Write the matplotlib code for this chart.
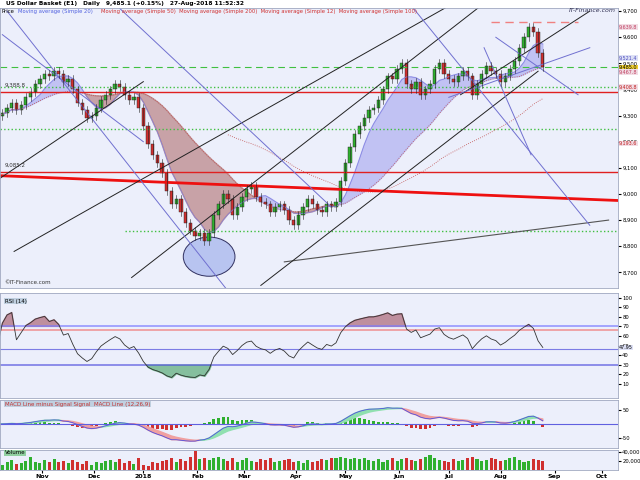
import numpy as np
import pandas as pd
import matplotlib
matplotlib.use("Agg")
import matplotlib.pyplot as plt
from matplotlib.patches import Ellipse, Rectangle

closes = [9300, 9310, 9330, 9350, 9320, 9340, 9370, 9390, 9420, 9440, 9460, 9450,
          9470, 9460, 9430, 9440, 9400, 9350, 9320, 9290, 9300, 9330, 9360,
          9380, 9400, 9420, 9410, 9380, 9360, 9370, 9330, 9260, 9190,
          9150, 9120, 9080, 9010, 8960, 8980, 8930, 8890, 8860, 8840, 8850,
          8820, 8850, 8920, 8960, 9000, 8980, 8920, 8950, 8990, 9020,
          9030, 8990, 8970, 8960, 8930, 8950, 8960, 8940, 8900, 8880, 8920,
          8950, 8980, 8960, 8940, 8930, 8960, 8950, 8970, 9050, 9120, 9180,
          9230, 9260, 9290, 9320, 9330, 9360, 9400, 9450, 9440, 9480, 9500,
          9420, 9400, 9430, 9380, 9400, 9420, 9480, 9500, 9460, 9440,
          9430, 9450, 9470, 9450, 9380, 9420, 9460, 9490, 9470, 9460, 9430,
          9450, 9480, 9510, 9560, 9600, 9640, 9620, 9540, 9485]
volumes = [15, 12, 18, 22, 14, 16, 20, 30, 18, 15, 22, 17,
           24, 18, 20, 16, 22, 19, 14, 20, 12, 18, 16,
           20, 22, 18, 24, 16, 20, 14, 26, 12, 10,
           18, 16, 20, 22, 28, 18, 25, 20, 30, 42, 24,
           26, 22, 28, 30, 24, 20, 26, 18, 22, 28,
           20, 18, 24, 22, 26, 18, 20, 22, 24, 18, 20,
           16, 22, 18, 20, 24, 22, 26, 28, 30, 26, 24,
           28, 24, 26, 22, 20, 24, 18, 22, 26, 20, 24,
           28, 22, 20, 24, 30, 34, 26, 22, 20, 18,
           24, 20, 22, 26, 30, 24, 20, 22, 26, 24, 20,
           22, 26, 30, 22, 18, 20, 24, 22, 20]
hlines = [(9388.8, "#e02020", "-", 1.0), (9485.0, "#40c040", (0, (6, 4)), 0.8),
          (9408.8, "#40c040", ":", 1.0), (9250, "#40c040", ":", 1.0),
          (9085.2, "#e02020", "-", 1.0)]
right_tags = [(9639.8, "#c04060", "#f2dde5"), (9521.4, "#5050c0", "#dde0f5"),
              (9485.0, "#000000", "#f0d030"), (9467.8, "#c04060", "#f2dde5"),
              (9408.8, "#c02020", "#f2dde5"), (9193.6, "#c02020", "#f2dde5")]

n = min(len(closes), len(volumes))
closes = np.array(closes[:n], float)
volumes = np.array(volumes[:n], float) * 1000
bd = pd.bdate_range("2017-10-09", "2018-10-15")
end_i = list(bd).index(pd.Timestamp("2018-08-27"))
idx = np.arange(end_i - 2 * (n - 1), end_i + 1, 2)
opens = np.r_[closes[0] - 10, closes[:-1]]
hi = np.maximum(opens, closes) + 15
lo = np.minimum(opens, closes) - 15
s = pd.Series(closes)
ma12 = s.rolling(6, min_periods=1).mean()
ma50 = s.rolling(25, min_periods=1).mean()
ma100 = s.rolling(50).mean()
d = s.diff().fillna(0)
up = d.clip(lower=0).ewm(alpha=1/10).mean() + 3
dn = (-d.clip(upper=0)).ewm(alpha=1/10).mean() + 3
rsi = 100 - 100 / (1 + up / dn)
macd = s.ewm(span=6).mean() - s.ewm(span=13).mean()
sig = macd.ewm(span=5).mean()
hist = macd - sig

W, H = 640, 480
XR = 618
fig = plt.figure(figsize=(6.4, 4.8), dpi=100)
fig.patch.set_facecolor("white")
bg = "#eceffb"
def ax_at(y0, y1):
    a = fig.add_axes([0, 1 - y1 / H, XR / W, (y1 - y0) / H])
    a.set_facecolor(bg)
    a.yaxis.tick_right()
    a.tick_params(labelsize=3.8, length=2, pad=1)
    a.set_xlim(-1, 262)
    a.set_xticks([])
    for sp in a.spines.values():
        sp.set_color("#a0a8c0"); sp.set_linewidth(0.6)
    return a

ax = ax_at(8, 288)
ax.set_ylim(8640, 9712)
ax.set_yticks(range(8700, 9701, 100))
ax.set_yticklabels([f"{v:,}" for v in range(8700, 9701, 100)])
ax.fill_between(idx, ma12, ma50, where=ma12 >= ma50, color="#b0b0f0", alpha=0.7, interpolate=True)
ax.fill_between(idx, ma12, ma50, where=ma12 < ma50, color="#b07070", alpha=0.6, interpolate=True)
ax.plot(idx, ma12, color="#8080e0", lw=0.5)
ax.plot(idx, ma50, color="#c05050", lw=0.6, ls=":")
ax.plot(idx, ma100, color="#c05050", lw=0.6, ls=":")
for y, c, ls, lw in hlines:
    ax.axhline(y, color=c, ls=ls, lw=lw)
ax.plot([52, 261], [8860, 8860], color="#40c040", ls=":", lw=1.0)
ax.plot([-1, 262], [9070, 8975], color="#ee1010", lw=2)
ax.plot([120, 258], [8740, 8900], color="#555555", lw=0.8)
ax.plot([208, 245], [9660, 9660], color="#f08080", ls=(0, (6, 4)), lw=1)
for a0, b0, a1, b1 in [(55, 8680, 205, 9730), (5, 8780, 190, 9720), (110, 8650, 228, 9470),
                       (-1, 9060, 60, 9430), (195, 9380, 250, 9700)]:
    ax.plot([a0, a1], [b0, b1], color="#222222", lw=0.7)
for a0, b0, a1, b1 in [(2, 9700, 95, 8640), (50, 9710, 140, 8950), (0, 9610, 60, 9200),
                       (190, 9370, 250, 9560), (210, 9600, 245, 9380), (175, 9710, 250, 8880),
                       (205, 9560, 225, 9150)]:
    ax.plot([a0, a1], [b0, b1], color="#7070d0", lw=0.7)
ax.add_patch(Ellipse((88, 8760), 22, 150, facecolor="#b8c4f0", edgecolor="#303060", lw=0.7))
w = 1.4
for x, o, c, h, l in zip(idx, opens, closes, hi, lo):
    col = "#30b030" if c >= o else "#d03030"
    ax.plot([x, x], [l, h], color="#222222", lw=0.4)
    ax.add_patch(Rectangle((x - w / 2, min(o, c)), w, max(abs(c - o), 3), facecolor=col,
                           edgecolor="#222222", lw=0.3))
for y, tc, fc in right_tags:
    ax.text(262.5, y, f"{y:,.1f}", fontsize=3.5, color=tc, va="center", ha="left",
            bbox=dict(boxstyle="square,pad=0.05", fc=fc, ec="none"), clip_on=False)
ax.text(1, 9388.8 + 20, "9,388.8", fontsize=4, color="#333333")
ax.text(1, 9085.2 + 20, "9,085.2", fontsize=4, color="#333333")
ax.text(1, 8655, "©IT-Finance.com", fontsize=4, color="#333333")
ax.text(261, 9695, "IT-Finance.com", fontsize=4.5, color="#333355", ha="right", style="italic")

fig.text(0.003, 1 - 4 / H, "  US Dollar Basket (E1)   Daily   9,485.1 (+0.15%)   27-Aug-2018 11:52:32",
         fontsize=4.2, va="center", weight="bold")
fig.text(0.003, 1 - 11.5 / H, "Price", fontsize=3.8, va="center")
fig.text(0.028, 1 - 11.5 / H, "Moving average (Simple 20)", fontsize=3.8, va="center", color="#5060e0")
fig.text(0.158, 1 - 11.5 / H, "Moving average (Simple 50)  Moving average (Simple 200)  Moving average (Simple 12)  Moving average (Simple 100)",
         fontsize=3.8, va="center", color="#d03030")

ar = ax_at(293, 398)
ar.set_ylim(-5, 105)
ar.set_yticks(range(10, 101, 10))
ar.set_yticklabels([str(v) for v in range(10, 101, 10)])
for y, c in [(70, "#8080ff"), (66, "#f08080"), (45.9, "#6060e0"), (30, "#6060e0")]:
    ar.axhline(y, color=c, lw=1.2 if y != 45.9 else 0.8, alpha=0.8)
ar.plot(idx, rsi, color="#333333", lw=0.6)
ar.fill_between(idx, rsi, 70, where=rsi > 70, color="#a05060", alpha=0.6, interpolate=True)
ar.fill_between(idx, rsi, 30, where=rsi < 30, color="#40a060", alpha=0.6, interpolate=True)
ar.text(1, 99, "RSI (14)", fontsize=4, va="top", bbox=dict(fc="#c0d0e0", ec="none", pad=0.5))
ar.text(262.5, rsi.iloc[-1], f"{rsi.iloc[-1]:.2f}", fontsize=3.5, va="center", clip_on=False,
        bbox=dict(fc="#dde0f5", ec="none", pad=0.2))

am = ax_at(400, 448)
m = max(abs(macd).max(), 1)
am.set_ylim(-1.4 * m, 1.4 * m)
am.set_yticks([-m * 0.8, m * 0.8]); am.set_yticklabels(["-50", "50"])
am.axhline(0, color="#6060e0", lw=0.8)
am.bar(idx, hist * 1.5, width=1.2, color=np.where(hist >= 0, "#30b030", "#d03030"))
am.fill_between(idx, macd, sig, where=macd >= sig, color="#90e0b0", interpolate=True)
am.fill_between(idx, macd, sig, where=macd < sig, color="#f0a0a0", interpolate=True)
am.plot(idx, macd, color="#5050e0", lw=0.6)
am.text(1, 1.3 * m, "MACD Line minus Signal Signal  MACD Line (12,26,9)", fontsize=4, va="top",
        color="#c03030", bbox=dict(fc="#c0d0e0", ec="none", pad=0.5))

av = ax_at(450, 470)
av.set_ylim(0, 45000)
av.set_yticks([20000, 40000]); av.set_yticklabels(["20,000", "40,000"])
av.bar(idx, volumes, width=1.3, color=np.where(closes >= opens, "#30b030", "#d03030"))
av.text(1, 44000, "Volume", fontsize=4, va="top", bbox=dict(fc="#90d0a0", ec="none", pad=0.4))
bds = list(bd)
pos, lab = [], []
prev = None
for i, t in enumerate(bds):
    if prev is not None and t.month != prev.month:
        pos.append(i); lab.append("2018" if t.month == 1 else t.strftime("%b"))
    prev = t
av.set_xticks(pos)
av.set_xticklabels(lab, fontsize=4.5, weight="bold")
av.tick_params(axis="x", length=2, pad=1)
fig.savefig("out.png", dpi=100)
